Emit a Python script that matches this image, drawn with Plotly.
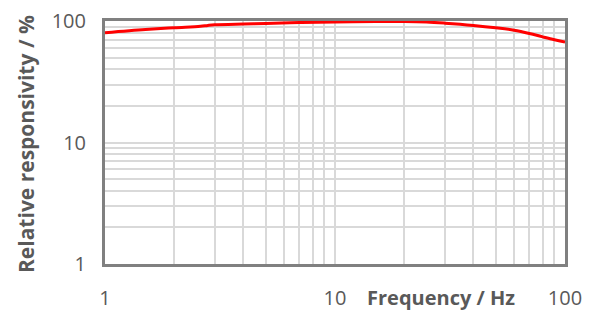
import plotly.graph_objects as go

freq_hz = [1, 1.5, 2, 2.6, 2.8, 3, 4, 5, 7, 10, 15, 20, 25, 30, 40, 50, 60, 70, 80, 90, 100]
responsivity_pct = [80, 85, 88, 90.5, 92, 93, 94.5, 95.5, 97, 98, 99, 99, 98, 96, 92, 88, 84, 79, 74, 70, 67]

x_tickvals = [1, 10, 100]
x_ticktext = ["1", "10", "100"]
y_tickvals = [1, 10, 100]
y_ticktext = ["1", "10", "100"]
minor_vals = [2, 3, 4, 5, 6, 7, 8, 9, 20, 30, 40, 50, 60, 70, 80, 90]

grey_text = "#595959"
grid = "#d9d9d9"
font_family = "Open Sans, Liberation Sans, sans-serif"
fs = 20

fig = go.Figure()
fig.add_trace(go.Scatter(x=freq_hz, y=responsivity_pct, mode="lines",
                         line=dict(color="#ff0000", width=3, shape="spline"),
                         hoverinfo="skip", showlegend=False))

axis_common = dict(
    type="log", range=[0, 2],
    showgrid=True, gridcolor=grid, gridwidth=1.5,
    minor=dict(tickvals=minor_vals, showgrid=True, gridcolor=grid, gridwidth=1.5, ticks=""),
    showline=True, linecolor="#808080", linewidth=3, mirror=True,
    tickcolor="rgba(0,0,0,0)", ticks="outside", ticklabeloverflow="allow",
    tickfont=dict(size=fs, color=grey_text), zeroline=False, automargin=False,
)

# page body has an 8px default margin; figure placed so plot area spans x 105-565, y 21-264
fig.update_layout(
    width=585, height=304,
    margin=dict(l=97, r=28, t=13, b=48),
    paper_bgcolor="white", plot_bgcolor="white",
    font=dict(family=font_family, color=grey_text, size=fs),
    xaxis=dict(axis_common, tickvals=x_tickvals, ticktext=x_ticktext, ticklen=14),
    yaxis=dict(axis_common, tickvals=y_tickvals, ticktext=y_ticktext, ticklen=12),
    annotations=[
        dict(text="<b>Frequency / Hz</b>", xref="paper", yref="paper",
             x=(441 - 105) / 460, y=-(297 - 264) / 243, xanchor="center", yanchor="middle",
             showarrow=False, font=dict(size=fs, color=grey_text)),
        dict(text="<b>Relative responsivity / %</b>", xref="paper", yref="paper",
             x=-(105 - 26) / 460, y=(264 - 144) / 243, xanchor="center", yanchor="middle",
             textangle=-90, showarrow=False, font=dict(size=21, color=grey_text)),
    ],
)

fig.write_html("out.html")
